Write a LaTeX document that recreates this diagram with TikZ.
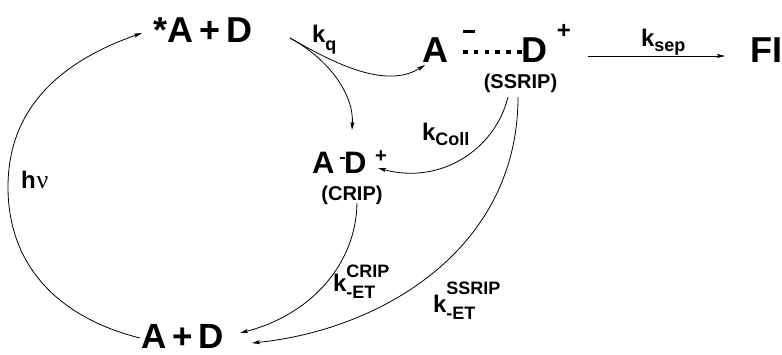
\documentclass[tikz,border=0pt]{standalone}
\usepackage{fontspec}
\setmainfont{Liberation Sans}
\newfontfamily\greekfont{Liberation Serif}
\usetikzlibrary{arrows.meta}
\newcommand{\fsz}[1]{\fontsize{#1}{#1}\selectfont}
\begin{document}
\begin{tikzpicture}[x=1pt,y=-1pt,
  txt/.style={inner sep=0pt,outer sep=0pt,anchor=base west,font=\bfseries},
  conn/.style={line width=0.8pt,-{Stealth[length=8pt,width=4pt,inset=1.5pt]}},
  plain/.style={line width=0.8pt}]
\useasboundingbox (0,0) rectangle (782,354);
% species
\node[txt,font=\bfseries\fsz{36}] (top) at (153,42) {*A\hspace{.17em}+\hspace{.17em}D};
\node[txt,font=\bfseries\fsz{35}] (bot) at (141,348) {A\hspace{.17em}+\hspace{.17em}D};
\node[txt,font=\bfseries\fsz{36}] (ssA) at (422,62) {A};
\node[txt,font=\bfseries\fsz{36}] (ssD) at (521,62) {D};
\node[inner sep=0pt,font=\bfseries\fsz{24}] (ssplus) at (564,31) {+};
\fill (463,29.5) rectangle (475,32.5);
\foreach \i in {0,...,5} {\fill ({463+\i*10.8},49.5) rectangle ({467.5+\i*10.8},54);}
\node[inner sep=0pt,anchor=base,font=\bfseries\fsz{20}] (ssrip) at (520.5,88) {(SSRIP)};
\node[txt,font=\bfseries\fsz{36}] (FI) at (750,62) {FI};
\node[txt,font=\bfseries\fsz{31}] (crA) at (312,173) {A};
\fill (339.5,156.5) rectangle (344.5,159);
\node[txt,font=\bfseries\fsz{31}] (crD) at (344,173) {D};
\node[inner sep=0pt,font=\bfseries\fsz{20}] (crplus) at (381,157) {+};
\node[inner sep=0pt,anchor=base,font=\bfseries\fsz{20}] (crip) at (352,200) {(CRIP)};
% labels
\node[txt,font=\bfseries\fsz{24}] (hv) at (21,188) {h\hspace{1pt}{\greekfont\mdseries\fsz{26}ν}};
\node[txt,font=\bfseries\fsz{24}] (kq) at (312,42) {k\raisebox{-8pt}{\fsz{18}q}};
\node[txt,font=\bfseries\fsz{24}] (ksep) at (641,46) {k\raisebox{-5pt}{\fsz{18}sep}};
\node[txt,font=\bfseries\fsz{24}] (kcoll) at (422,140) {k\raisebox{-5pt}{\fsz{18}Coll}};
\node[txt,font=\bfseries\fsz{24}] (kcrip) at (333,291) {k\rlap{\raisebox{14pt}{\fsz{18}CRIP}}\raisebox{-7pt}{\fsz{18}-ET}};
\node[txt,font=\bfseries\fsz{24}] (kssrip) at (433,312) {k\rlap{\raisebox{18pt}{\fsz{18}SSRIP}}\raisebox{-7pt}{\fsz{18}-ET}};
% connector end points
\coordinate (hvS) at (140,338);
\coordinate (hvL) at (8,187);
\coordinate (hvE) at (142,33);
\coordinate (qS) at (290,38);
\coordinate (qE1) at (425,65);
\coordinate (qE2) at (352,130);
\coordinate (sepS) at (588,56);
\coordinate (sepE) at (725,56);
\coordinate (collS) at (508,97);
\coordinate (collE) at (378,168);
\coordinate (ssS) at (518,97);
\coordinate (ssE) at (252,343);
\coordinate (crS) at (357,203);
\coordinate (crE) at (240,333);
% connectors
\draw[plain] (hvS) .. controls (60,318) and (8,267) .. (hvL);
\draw[conn] (hvL) .. controls (8,107) and (62,61) .. (hvE);
\draw[conn] (qS) .. controls (332,62) and (385,90) .. (qE1);
\draw[conn] (qS) .. controls (330,60) and (354,95) .. (qE2);
\draw[conn] (sepS) -- (sepE);
\draw[conn] (collS) .. controls (495,150) and (440,185) .. (collE);
\draw[conn] (ssS) .. controls (518,250) and (380,330) .. (ssE);
\draw[conn] (crS) .. controls (356,265) and (310,315) .. (crE);
\end{tikzpicture}
\end{document}
